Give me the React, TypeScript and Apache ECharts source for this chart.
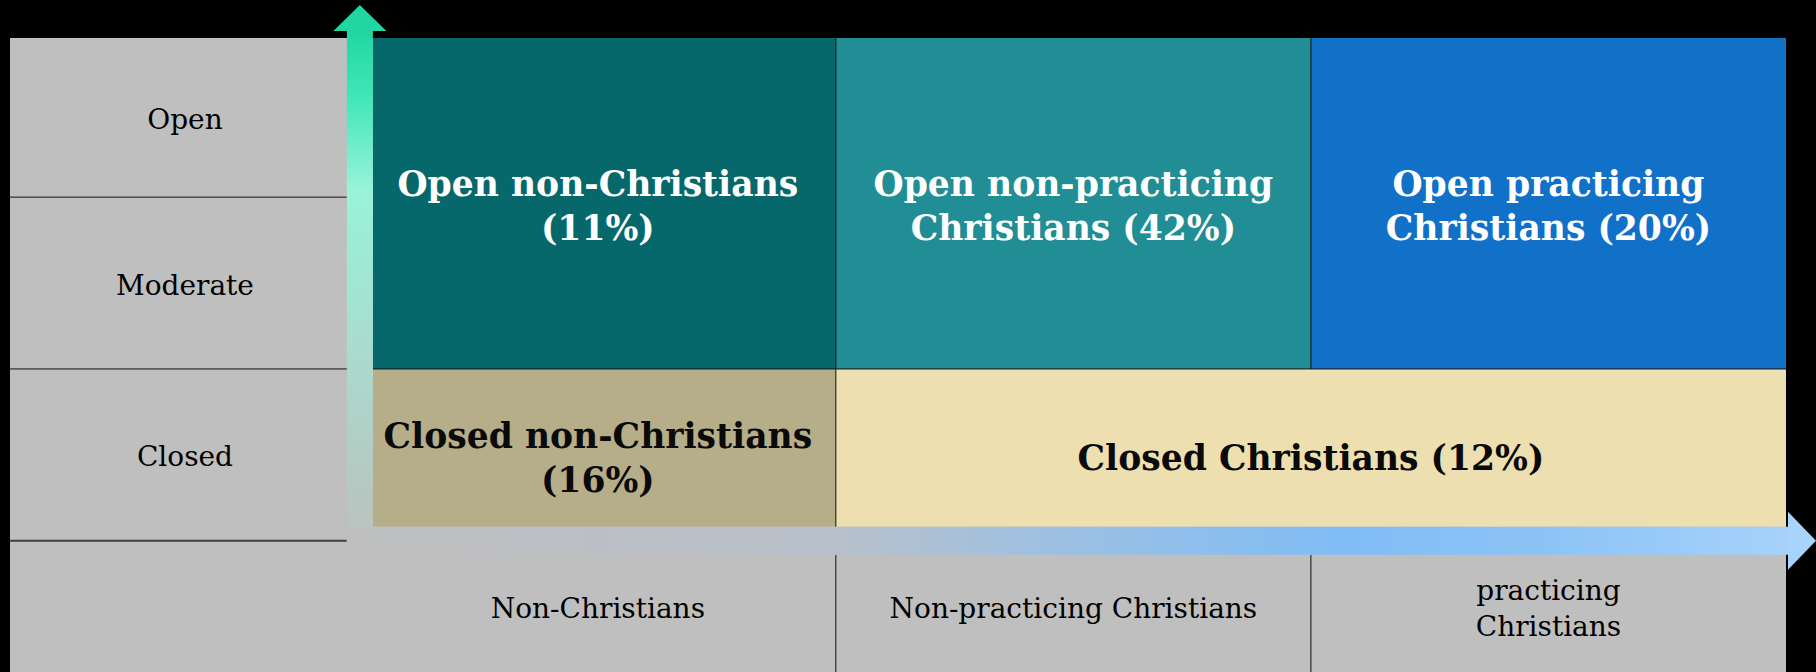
import { useEffect, useRef } from "react";
import * as echarts from "echarts";

// ---- data ----
const rowLabels = ["Open", "Moderate", "Closed"];
const columnLabels = ["Non-Christians", "Non-practicing Christians", "practicing\nChristians"];
const segmentNames = [
  "Open non-Christians",
  "Open non-practicing Christians",
  "Open practicing Christians",
  "Closed non-Christians",
  "Closed Christians",
];
const segmentShares = [11, 42, 20, 16, 12];
// spans: [first, last] column index and [first, last] row index of each segment
const segmentColumns = [[0, 0], [1, 1], [2, 2], [0, 0], [1, 2]];
const segmentRows = [[0, 1], [0, 1], [0, 1], [2, 2], [2, 2]];
const axisNames = ["Openness", "Christian practice"];

// ---- layout (value-axis units 0..100) ----
const xEdges = [0, 19.7, 46.5, 73.25, 100]; // label column | three columns
const yEdges = [0, 25.1, 52.2, 79.3, 100]; // Open | Moderate | Closed | header row

// ---- styles ----
const GRAY = "#BFBFBF";
const segmentColors = ["#07686B", "#218D94", "#1170C8", "#B6AE88", "#EEDFB0"];
const segmentTextColors = ["#FFFFFF", "#FFFFFF", "#FFFFFF", "#0A0A0A", "#0A0A0A"];
const SERIF = "'DejaVu Serif', 'Liberation Serif', serif";
const LABEL_FONT = `28px ${SERIF}`;
const SEG_FONT = `bold 34.6px ${SERIF}`;
const V_HALF = 13; // vertical arrow shaft half width (px)
const H_HALF = 14; // horizontal arrow shaft half width (px)

let measureCtx: CanvasRenderingContext2D | null = null;
function wrapText(text: string, font: string, maxWidth: number): string {
  if (!measureCtx) measureCtx = document.createElement("canvas").getContext("2d");
  const ctx = measureCtx!;
  ctx.font = font;
  const words = text.split(" ");
  const lines: string[] = [];
  let cur = "";
  for (const w of words) {
    const test = cur ? cur + " " + w : w;
    if (cur && ctx.measureText(test).width > maxWidth) {
      lines.push(cur);
      cur = w;
    } else {
      cur = test;
    }
  }
  if (cur) lines.push(cur);
  return lines.join("\n");
}

export default function App() {
  const ref = useRef<HTMLDivElement>(null);

  useEffect(() => {
    if (!ref.current) return;
    const chart = echarts.init(ref.current, undefined, { renderer: "svg" });

    const option: any = {
      animation: false,
      backgroundColor: "#000000",
      grid: {
        left: 10,
        right: 30,
        top: 38,
        bottom: 0,
        show: true,
        backgroundColor: GRAY,
        borderWidth: 0,
      },
      xAxis: { type: "value", min: 0, max: 100, show: false },
      yAxis: { type: "value", min: 0, max: 100, inverse: true, show: false },
      series: [
        // row header (Open / Moderate / Closed)
        {
          type: "custom",
          name: "rows",
          data: rowLabels.map((_, i) => [i]),
          renderItem: (params: any, api: any) => {
            const i = params.dataIndex;
            const [x0, y0] = api.coord([xEdges[0], yEdges[i]]);
            const [x1, y1] = api.coord([xEdges[1], yEdges[i + 1]]);
            const last = i === rowLabels.length - 1;
            return {
              type: "group",
              children: [
                {
                  type: "line",
                  shape: { x1: x0, y1: y1, x2: x1 - V_HALF, y2: y1 },
                  style: { stroke: last ? "#404040" : "#111111", lineWidth: last ? 2 : 1 },
                },
                {
                  type: "text",
                  x: (x0 + x1) / 2,
                  y: (y0 + y1) / 2 + 2,
                  style: {
                    text: rowLabels[i],
                    font: LABEL_FONT,
                    fill: "#000000",
                    align: "center",
                    verticalAlign: "middle",
                  },
                },
              ],
            };
          },
        },
        // column header
        {
          type: "custom",
          name: "columns",
          data: columnLabels.map((_, i) => [i]),
          renderItem: (params: any, api: any) => {
            const i = params.dataIndex;
            const [x0, y0] = api.coord([xEdges[i + 1], yEdges[3]]);
            const [x1, y1] = api.coord([xEdges[i + 2], yEdges[4]]);
            const children: any[] = [
              {
                type: "text",
                x: (x0 + x1) / 2,
                y: (y0 + y1) / 2 + 2,
                style: {
                  text: columnLabels[i],
                  font: LABEL_FONT,
                  lineHeight: 36,
                  fill: "#000000",
                  align: "center",
                  verticalAlign: "middle",
                },
              },
            ];
            if (i > 0) {
              children.push({
                type: "line",
                shape: { x1: x0, y1: y0 + H_HALF, x2: x0, y2: y1 },
                style: { stroke: "#111111", lineWidth: 1 },
              });
            }
            return { type: "group", children };
          },
        },
        // segments
        {
          type: "custom",
          name: "segments",
          data: segmentShares.map((v, i) => [i, v]),
          renderItem: (params: any, api: any) => {
            const i = params.dataIndex;
            const [c0, c1] = segmentColumns[i];
            const [r0, r1] = segmentRows[i];
            const [ax0, ay0] = api.coord([xEdges[c0 + 1], yEdges[r0]]);
            const [ax1, ay1] = api.coord([xEdges[c1 + 2], yEdges[r1 + 1]]);
            const x0 = c0 === 0 ? ax0 + V_HALF : ax0;
            const y1 = r1 === 2 ? ay1 - H_HALF : ay1;
            const children: any[] = [
              {
                type: "rect",
                shape: { x: x0, y: ay0, width: ax1 - x0, height: y1 - ay0 },
                style: { fill: segmentColors[i] },
              },
            ];
            if (c0 > 0) {
              children.push({
                type: "line",
                shape: { x1: ax0, y1: ay0, x2: ax0, y2: y1 },
                style: { stroke: "#111111", lineWidth: 1 },
              });
            }
            if (r0 > 0) {
              children.push({
                type: "line",
                shape: { x1: x0, y1: ay0, x2: ax1, y2: ay0 },
                style: { stroke: "#111111", lineWidth: 1 },
              });
            }
            children.push({
              type: "text",
              x: (ax0 + ax1) / 2,
              y: (ay0 + ay1) / 2 + 3,
              style: {
                text: wrapText(`${segmentNames[i]} (${api.value(1)}%)`, SEG_FONT, ax1 - x0 - 20),
                font: SEG_FONT,
                lineHeight: 44,
                fill: segmentTextColors[i],
                align: "center",
                verticalAlign: "middle",
              },
            });
            return { type: "group", children };
          },
        },
        // axis arrows
        {
          type: "custom",
          name: "arrows",
          data: axisNames.map((_, i) => [i]),
          renderItem: (params: any, api: any) => {
            const i = params.dataIndex;
            if (i === 0) {
              const [ax, top] = api.coord([xEdges[1], yEdges[0]]);
              const [, bottom] = api.coord([xEdges[1], yEdges[3]]);
              const baseY = top - 7;
              const tipY = top - 33;
              return {
                type: "group",
                children: [
                  {
                    type: "rect",
                    shape: { x: ax - V_HALF, y: baseY, width: V_HALF * 2, height: bottom + 20 - baseY },
                    style: {
                      fill: new echarts.graphic.LinearGradient(0, 0, 0, 1, [
                        { offset: 0, color: "#22D6A1" },
                        { offset: 0.12, color: "#3FE6B7" },
                        { offset: 0.3, color: "#98F3D9" },
                        { offset: 0.6, color: "#A9DCCE" },
                        { offset: 0.85, color: "#B5C9C2" },
                        { offset: 1, color: GRAY },
                      ]),
                    },
                  },
                  {
                    type: "polygon",
                    shape: {
                      points: [
                        [ax - 26.5, baseY],
                        [ax, tipY],
                        [ax + 26.5, baseY],
                      ],
                    },
                    style: { fill: "#21D6A0" },
                  },
                ],
              };
            }
            const [left, ay] = api.coord([xEdges[1], yEdges[3]]);
            const [right] = api.coord([xEdges[4], yEdges[3]]);
            const baseX = right + 2;
            const tipX = right + 30;
            return {
              type: "group",
              children: [
                {
                  type: "rect",
                  shape: { x: left - V_HALF, y: ay - H_HALF, width: baseX - (left - V_HALF), height: H_HALF * 2 },
                  style: {
                    fill: new echarts.graphic.LinearGradient(0, 0, 1, 0, [
                      { offset: 0, color: GRAY },
                      { offset: 0.34, color: "#B8C0CB" },
                      { offset: 0.45, color: "#A4C0DC" },
                      { offset: 0.56, color: "#92BFE9" },
                      { offset: 0.69, color: "#80BDF5" },
                      { offset: 0.83, color: "#8CC3F6" },
                      { offset: 1, color: "#A6D2FA" },
                    ]),
                  },
                },
                {
                  type: "polygon",
                  shape: {
                    points: [
                      [baseX, ay - 29],
                      [tipX, ay],
                      [baseX, ay + 29],
                    ],
                  },
                  style: { fill: "#A8D3FA" },
                },
              ],
            };
          },
        },
      ],
    };

    chart.setOption(option);
    return () => chart.dispose();
  }, []);

  return (
    <div
      ref={ref}
      style={{ position: "fixed", left: 0, top: 0, width: 1816, height: 672, background: "#000" }}
    />
  );
}
